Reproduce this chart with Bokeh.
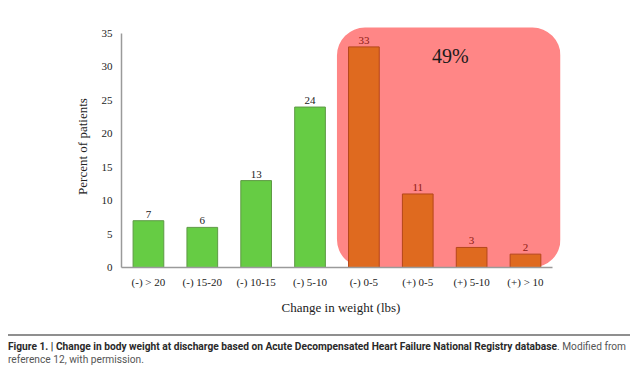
from bokeh.plotting import figure
from bokeh.models import ColumnDataSource, FixedTicker, BoxAnnotation, Label, Div
from bokeh.layouts import column
from bokeh.core.properties import value
from bokeh.embed import file_html
from bokeh.resources import INLINE

# ---- data ----
categories = ["(-) > 20", "(-) 15-20", "(-) 10-15", "(-) 5-10",
              "(-) 0-5", "(+) 0-5", "(+) 5-10", "(+) > 10"]
percent = [7, 6, 13, 24, 33, 11, 3, 2]
y_ticks = [0, 5, 10, 15, 20, 25, 30, 35]
highlight_start = 4          # first category inside the highlighted box
highlight_text = "49%"
x_title = "Change in weight (lbs)"
y_title = "Percent of patients"
caption_bold = ("Figure 1. | Change in body weight at discharge based on Acute "
                "Decompensated Heart Failure National Registry database")
caption_rest_1 = ". Modified from"
caption_rest_2 = "reference 12, with permission."

# ---- styling ----
GREEN, GREEN_LINE = "#66CC44", "#5E9A45"
ORANGE, ORANGE_LINE = "#DF6A1F", "#B5471A"
PINK = "#FF8686"
SERIF = "Liberation Serif"

n = len(categories)
xs = [i + 0.5 for i in range(n)]
fills = [GREEN if i < highlight_start else ORANGE for i in range(n)]
lines = [GREEN_LINE if i < highlight_start else ORANGE_LINE for i in range(n)]
label_colors = ["#222222" if i < highlight_start else "#8E1B12" for i in range(n)]

src = ColumnDataSource(dict(x=xs, top=percent, fill=fills, line=lines,
                            lc=label_colors, label=[str(v) for v in percent]))

x_end = n + 0.15
y_end = 36.2

p = figure(width=632, height=328, x_range=(0, x_end), y_range=(0, y_end),
           output_backend="svg", toolbar_location=None,
           min_border_left=121, min_border_right=72,
           min_border_top=25, min_border_bottom=61)
p.outline_line_color = None
p.background_fill_color = "white"
p.border_fill_color = "white"
p.xgrid.visible = False
p.ygrid.visible = False

box = BoxAnnotation(left=highlight_start, right=x_end, bottom=0, top=35.9,
                    fill_color=PINK, fill_alpha=1.0, line_alpha=0,
                    border_radius=28, level="underlay")
p.add_layout(box)

p.vbar(x="x", top="top", bottom=0, width=0.57, source=src,
       fill_color="fill", line_color="line", line_width=1)

p.text(x="x", y="top", text="label", source=src, text_color="lc",
       text_align="center", text_baseline="bottom", y_offset=-3,
       text_font=value(SERIF), text_font_size="11px")

p.add_layout(Label(x=(highlight_start + x_end) / 2 + 0.03, y=31.7,
                   text=highlight_text, text_align="center",
                   text_baseline="middle", text_font=SERIF,
                   text_font_size="20px", text_color="#1a1a1a"))

for ax in (p.xaxis[0], p.yaxis[0]):
    ax.axis_line_color = "#9a9a9a"
    ax.axis_line_width = 1.5
    ax.major_tick_line_color = None
    ax.minor_tick_line_color = None
    ax.major_tick_out = 0
    ax.major_tick_in = 0
    ax.minor_tick_out = 0
    ax.minor_tick_in = 0
    ax.major_label_text_font = SERIF
    ax.major_label_text_font_size = "11px"
    ax.major_label_text_color = "#222222"
    ax.axis_label_text_font = SERIF
    ax.axis_label_text_font_style = "normal"
    ax.axis_label_text_font_size = "13px"
    ax.axis_label_text_color = "#222222"

p.xaxis.ticker = FixedTicker(ticks=xs)
p.xaxis.major_label_overrides = {x: c for x, c in zip(xs, categories)}
p.xaxis.bounds = (0, n)
p.xaxis.major_label_standoff = 8
p.xaxis.axis_label = x_title
p.xaxis.axis_label_standoff = 9

p.yaxis.ticker = FixedTicker(ticks=y_ticks)
p.yaxis.bounds = (0, y_ticks[-1])
p.yaxis.major_label_standoff = 9
p.yaxis.axis_label = y_title
p.yaxis.axis_label_standoff = 9

SCALE = 0.97
cap = Div(text=(
    "<div style=\"width:622px;border-top:2px solid #8f8f8f;padding-top:4px;overflow:hidden;\">"
    f"<div style=\"width:{622 / SCALE:.0f}px;transform:scaleX({SCALE});transform-origin:0 0;"
    "font-family:Roboto,'Open Sans',sans-serif;font-size:10.5px;"
    "line-height:13px;color:#555555;\">"
    f"<b style=\"color:#2a2a2a\">{caption_bold}</b><span>{caption_rest_1}</span><br>"
    f"<span>{caption_rest_2}</span></div></div>"),
    width=624, margin=(6, 0, 0, 8))

layout = column(p, cap, spacing=0)
open("out.html", "w").write(file_html(layout, INLINE))
